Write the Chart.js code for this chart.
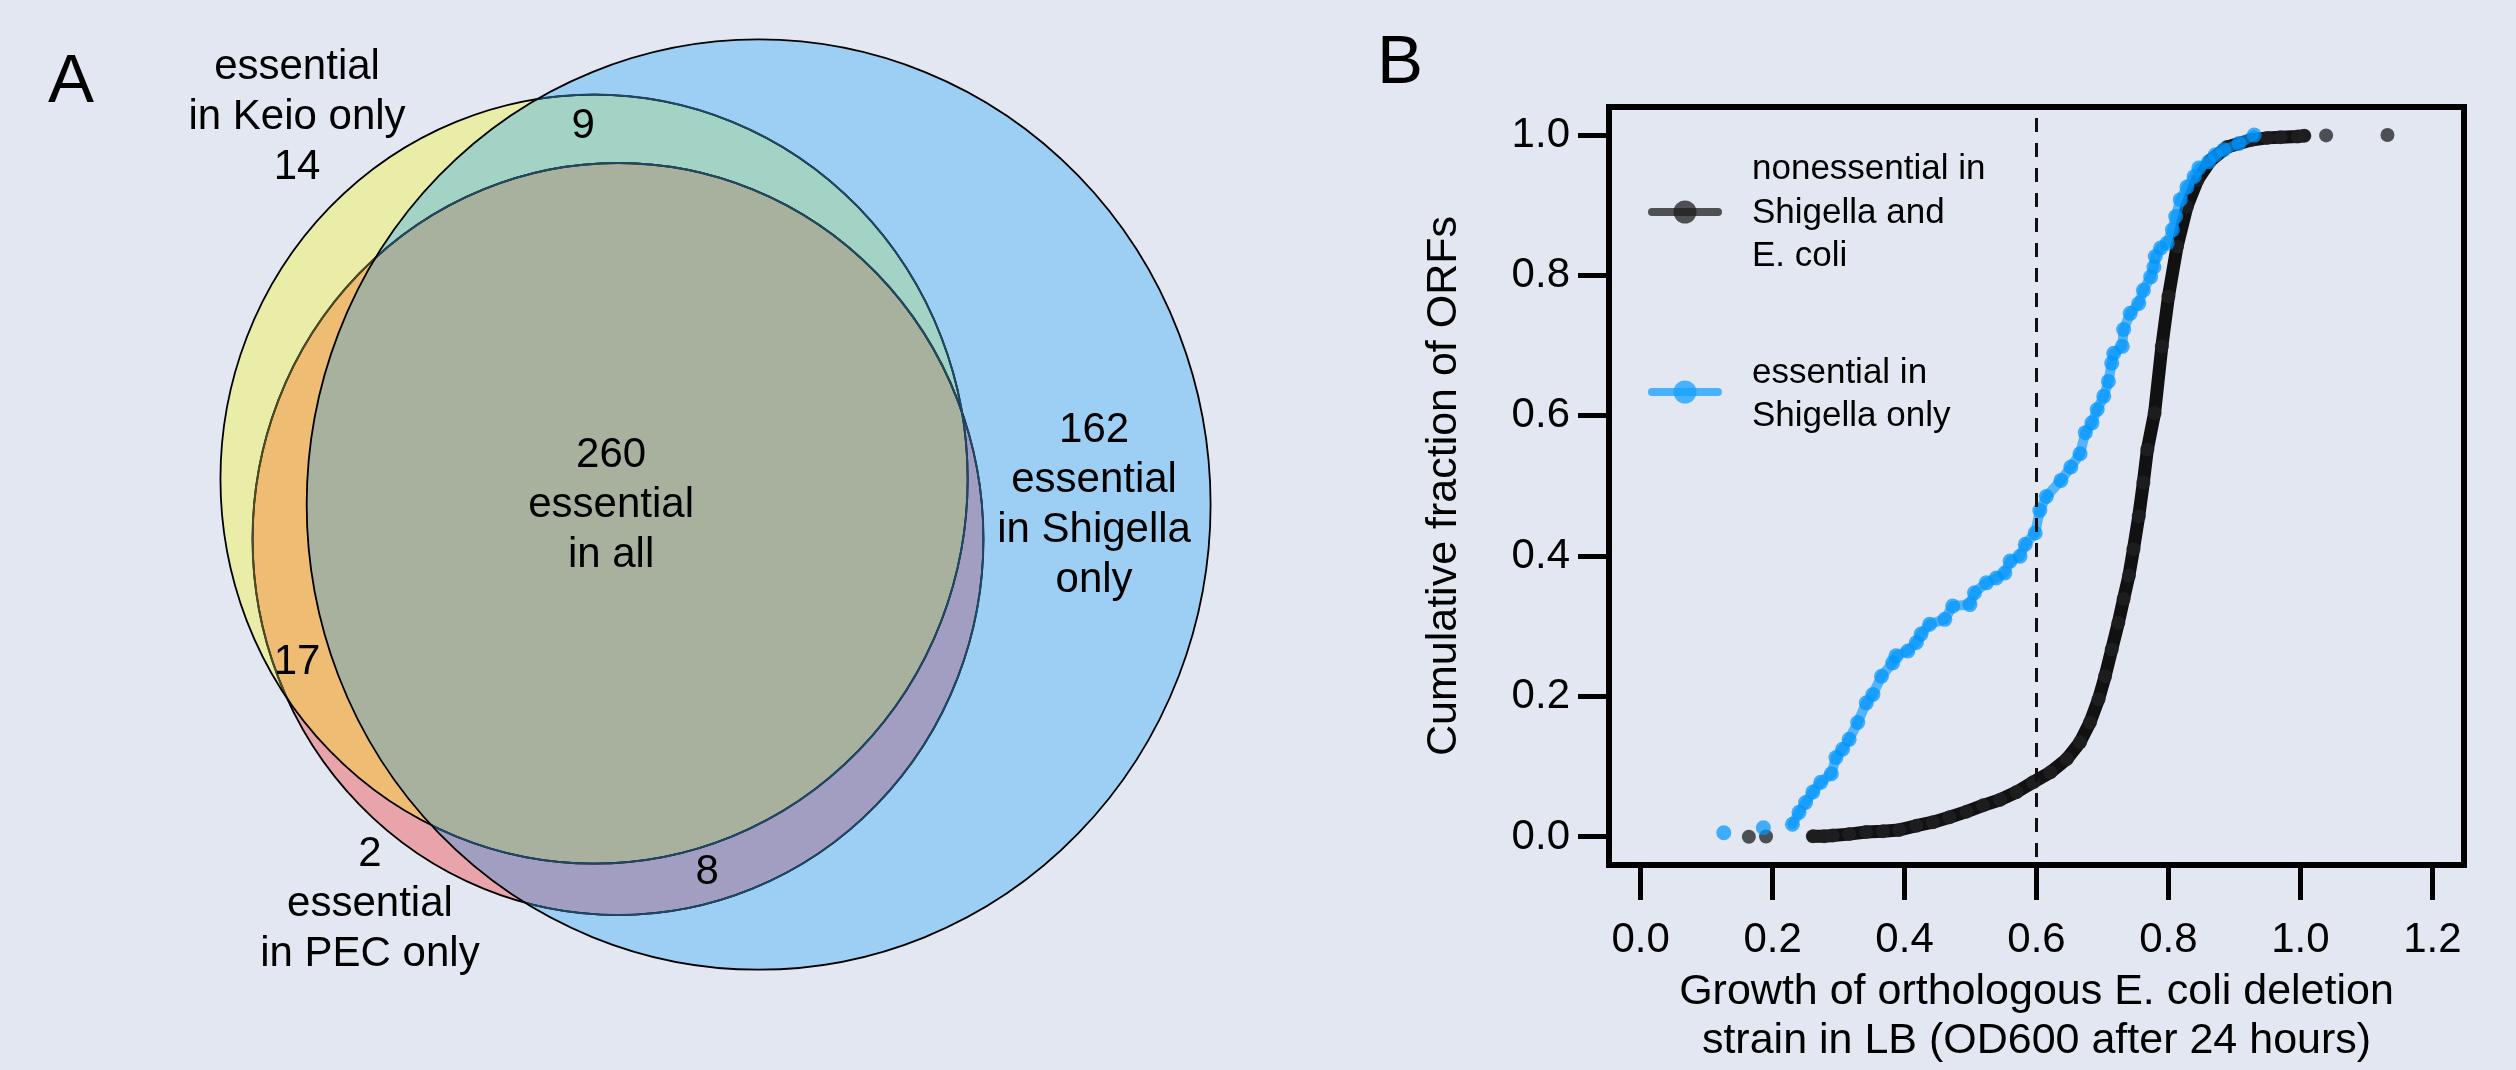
<!DOCTYPE html>
<html>
<head>
<meta charset="utf-8">
<title>Essential genes: Venn diagram and cumulative growth of deletion strains</title>
<script src="https://cdn.jsdelivr.net/npm/chart.js@4.4.1/dist/chart.umd.min.js"></script>
<style>
  html, body { margin: 0; padding: 0; background: #e3e7f2; }
  #page { position: relative; width: 2516px; height: 1070px; overflow: hidden; background: #e3e7f2; }
  canvas { position: absolute; top: 0; }
  #venn { left: 0; }
  #ecdf { left: 1258px; }
</style>
</head>
<body>
<div id="page">
  <canvas id="venn" width="1258" height="1070"></canvas>
  <canvas id="ecdf" width="1258" height="1070"></canvas>
</div>
<script>
// ---- Panel A: essential genes per Venn region ----
const setNames = ['Keio', 'PEC', 'Shigella'];
// membership of each region (indexes into setNames)
const regionMembers = [[0], [1], [2], [0, 1], [0, 2], [1, 2], [0, 1, 2]];
const regionCounts = [14, 2, 162, 17, 9, 8, 260];
const regionCaptions = [
    ['essential', 'in Keio only', '{n}'],
    ['{n}', 'essential', 'in PEC only'],
    ['{n}', 'essential', 'in Shigella', 'only'],
    ['{n}'],
    ['{n}'],
    ['{n}'],
    ['{n}', 'essential', 'in all']
];

// ---- Panel B: cumulative fraction of ORFs vs OD600 of the E. coli deletion strain ----
const seriesNames = [['nonessential in', 'Shigella and', 'E. coli'], ['essential in', 'Shigella only']];
const nonessOD = [0.261, 0.278, 0.291, 0.316, 0.342, 0.367, 0.392, 0.418, 0.443, 0.468, 0.494, 0.519,
    0.545, 0.570, 0.595, 0.621, 0.646, 0.666, 0.681, 0.694, 0.704, 0.714, 0.724, 0.732, 0.740, 0.747,
    0.755, 0.762, 0.768, 0.779, 0.790, 0.800, 0.813, 0.828, 0.844, 0.864, 0.889, 0.925, 0.950, 0.970,
    0.996, 1.006];
const nonessFrac = [0.001, 0.001, 0.002, 0.004, 0.007, 0.008, 0.010, 0.016, 0.021, 0.028, 0.036, 0.045,
    0.053, 0.064, 0.078, 0.092, 0.111, 0.135, 0.163, 0.196, 0.229, 0.267, 0.305, 0.339, 0.372, 0.410,
    0.457, 0.505, 0.552, 0.604, 0.699, 0.770, 0.841, 0.898, 0.936, 0.964, 0.983, 0.993, 0.996, 0.997,
    0.998, 0.999];
const nonessOutlierOD = [0.164, 0.190, 1.039, 1.132];
const nonessOutlierFrac = [0.0003, 0.0006, 0.9995, 1.000];

const essOD = [0.230, 0.240, 0.250, 0.261, 0.273, 0.289, 0.296, 0.306, 0.316, 0.329, 0.342, 0.352,
    0.365, 0.382, 0.387, 0.405, 0.418, 0.425, 0.438, 0.461, 0.473, 0.499, 0.506, 0.524, 0.539, 0.552,
    0.560, 0.575, 0.583, 0.598, 0.605, 0.615, 0.637, 0.652, 0.666, 0.674, 0.684, 0.692, 0.702, 0.709,
    0.714, 0.717, 0.730, 0.732, 0.742, 0.755, 0.762, 0.773, 0.778, 0.780, 0.788, 0.798, 0.806, 0.811,
    0.818, 0.828, 0.839, 0.846, 0.861, 0.871, 0.884, 0.907, 0.930];
const essFrac = [0.018, 0.035, 0.049, 0.064, 0.078, 0.090, 0.113, 0.125, 0.139, 0.163, 0.191, 0.203,
    0.229, 0.248, 0.258, 0.265, 0.277, 0.289, 0.303, 0.310, 0.329, 0.331, 0.348, 0.362, 0.369, 0.376,
    0.393, 0.400, 0.417, 0.433, 0.465, 0.485, 0.508, 0.527, 0.546, 0.576, 0.590, 0.609, 0.628, 0.649,
    0.675, 0.689, 0.699, 0.723, 0.746, 0.760, 0.779, 0.798, 0.812, 0.827, 0.839, 0.846, 0.865, 0.884,
    0.908, 0.926, 0.941, 0.953, 0.962, 0.972, 0.979, 0.988, 1.000];
const essOutlierOD = [0.126, 0.186];
const essOutlierFrac = [0.006, 0.013];

const odTicks = [0, 0.2, 0.4, 0.6, 0.8, 1.0, 1.2];
const fracTicks = [0, 0.2, 0.4, 0.6, 0.8, 1.0];
const cutoffOD = 0.6;
const xTitle = ['Growth of orthologous E. coli deletion', 'strain in LB (OD600 after 24 hours)'];
const yTitle = 'Cumulative fraction of ORFs';

// ---- layout / style (not data) ----
const FONT = "'Liberation Sans', Arial, Helvetica, sans-serif";
const vennLayout = {
    // circle centres in diagram units; radius = sqrt(set size)
    centers: [[27.54, 21.58], [28.65, 24.28], [35.17, 22.73]],
    labels: [[13.77, 5.27], [17.15, 40.72], [50.72, 22.77], [13.77, 29.86], [27.03, 5.68], [32.78, 39.28], [28.33, 22.79]],
    xMax: 58.32,
    yMax: 48.2
};
const regionColors = ['#eaeda8', '#e9a3aa', '#9dcef3', '#efbc73', '#a2d3c4', '#a19ec2', '#a7b19d'];
const outlineOrder = [1, 0, 2];
const outlineTints = ['#4b4c24', '#5a2a2e', '#1f4866'];

Chart.defaults.font.family = FONT;
Chart.defaults.color = '#000';

const setTotals = setNames.map((_, s) =>
    regionMembers.reduce((sum, m, k) => sum + (m.includes(s) ? regionCounts[k] : 0), 0));

const toPoints = (xs, ys) => xs.map((x, i) => ({ x, y: ys[i] }));

const vennPlugin = {
    id: 'vennRegions',
    beforeDatasetsDraw(chart) {
        const { ctx, scales: { x, y } } = chart;
        const W = chart.width, H = chart.height;
        const circles = vennLayout.centers.map(([cx, cy], i) => {
            const r = Math.sqrt(setTotals[i]);
            const px = x.getPixelForValue(cx), py = y.getPixelForValue(cy);
            return {
                px, py,
                rx: Math.abs(x.getPixelForValue(cx + r) - px),
                ry: Math.abs(y.getPixelForValue(cy + r) - py)
            };
        });
        const ellipse = (c) => ctx.ellipse(c.px, c.py, c.rx, c.ry, 0, 0, Math.PI * 2);

        // fill every region with its own colour
        regionMembers.forEach((members, k) => {
            ctx.save();
            circles.forEach((c, i) => {
                ctx.beginPath();
                if (members.includes(i)) {
                    ellipse(c);
                    ctx.clip();
                } else {
                    ctx.rect(0, 0, W, H);
                    ellipse(c);
                    ctx.clip('evenodd');
                }
            });
            ctx.fillStyle = regionColors[k];
            ctx.fillRect(0, 0, W, H);
            ctx.restore();
        });

        // outlines, tinted where a later circle lies on top
        outlineOrder.forEach((i, pos) => {
            ctx.save();
            ctx.lineWidth = 1.8;
            ctx.strokeStyle = '#000';
            ctx.beginPath();
            ellipse(circles[i]);
            ctx.stroke();
            ctx.restore();
            outlineOrder.slice(pos + 1).forEach(j => {
                ctx.save();
                ctx.beginPath();
                ellipse(circles[j]);
                ctx.clip();
                ctx.lineWidth = 2;
                ctx.strokeStyle = outlineTints[j];
                ctx.beginPath();
                ellipse(circles[i]);
                ctx.stroke();
                ctx.restore();
            });
        });
    },
    afterDatasetsDraw(chart) {
        const { ctx, scales: { x, y } } = chart;
        ctx.save();
        ctx.fillStyle = '#000';
        ctx.textAlign = 'center';
        ctx.textBaseline = 'middle';
        ctx.font = '42px ' + FONT;
        const lineH = 50;
        regionCaptions.forEach((lines, k) => {
            const [lx, ly] = vennLayout.labels[k];
            const px = x.getPixelForValue(lx);
            const py = y.getPixelForValue(ly) - (lines.length - 1) * lineH / 2;
            lines.forEach((t, n) => {
                ctx.fillText(t.replace('{n}', regionCounts[k]), px, py + n * lineH);
            });
        });
        ctx.font = '69px ' + FONT;
        ctx.textBaseline = 'alphabetic';
        ctx.fillText('A', 71, 102);
        ctx.restore();
    }
};

new Chart(document.getElementById('venn'), {
    type: 'scatter',
    data: {
        datasets: [{
            label: 'set centres',
            data: vennLayout.centers.map(([cx, cy]) => ({ x: cx, y: cy })),
            pointRadius: 0
        }]
    },
    options: {
        responsive: false,
        animation: false,
        events: [],
        layout: { padding: 0 },
        plugins: { legend: { display: false }, tooltip: { enabled: false } },
        scales: {
            x: { type: 'linear', display: false, min: 0, max: vennLayout.xMax },
            y: { type: 'linear', display: false, min: 0, max: vennLayout.yMax, reverse: true }
        }
    },
    plugins: [vennPlugin]
});

const blueDot = 'rgba(0, 150, 255, 0.72)';
const blueLine = 'rgba(0, 150, 255, 0.62)';
const blackDot = 'rgba(32, 32, 36, 0.8)';

const ecdfPlugin = {
    id: 'ecdfDecor',
    afterDatasetsDraw(chart) {
        const { ctx, chartArea: a, scales: { x } } = chart;
        const cx = x.getPixelForValue(cutoffOD);
        ctx.save();
        ctx.strokeStyle = '#111';
        ctx.lineWidth = 3;
        ctx.setLineDash([14, 11]);
        ctx.beginPath();
        ctx.moveTo(cx, a.top + 11);
        ctx.lineTo(cx, a.bottom);
        ctx.stroke();
        ctx.restore();
    },
    afterDraw(chart) {
        const { ctx, chartArea: a } = chart;
        ctx.save();
        // plot frame
        ctx.strokeStyle = '#000';
        ctx.lineWidth = 6;
        ctx.strokeRect(a.left, a.top, a.right - a.left, a.bottom - a.top);

        // legend
        const entries = [
            { lines: seriesNames[0], color: 'rgba(30, 30, 30, 0.75)', y: a.top + 105, textY: a.top + 106 },
            { lines: seriesNames[1], color: 'rgba(20, 160, 255, 0.75)', y: a.top + 285, textY: a.top + 288 }
        ];
        ctx.font = '35px ' + FONT;
        ctx.textAlign = 'left';
        ctx.textBaseline = 'middle';
        entries.forEach(e => {
            ctx.strokeStyle = e.color;
            ctx.lineWidth = 8;
            ctx.lineCap = 'round';
            ctx.beginPath();
            ctx.moveTo(a.left + 43, e.y);
            ctx.lineTo(a.left + 109, e.y);
            ctx.stroke();
            ctx.fillStyle = e.color;
            ctx.beginPath();
            ctx.arc(a.left + 76, e.y, 11.5, 0, Math.PI * 2);
            ctx.fill();
            ctx.fillStyle = '#000';
            const lh = 43.5;
            const top = e.textY - (e.lines.length - 1) * lh / 2;
            e.lines.forEach((t, n) => ctx.fillText(t, a.left + 143, top + n * lh));
        });

        ctx.font = '69px ' + FONT;
        ctx.textAlign = 'center';
        ctx.textBaseline = 'alphabetic';
        ctx.fillStyle = '#000';
        ctx.fillText('B', 142, 83);
        ctx.restore();
    }
};

new Chart(document.getElementById('ecdf'), {
    type: 'scatter',
    data: {
        datasets: [
            {
                label: seriesNames[1].join(' '),
                data: toPoints(essOD, essFrac),
                showLine: true,
                borderColor: blueLine,
                borderWidth: 10,
                borderJoinStyle: 'round',
                borderCapStyle: 'round',
                pointRadius: 7.5,
                pointBorderWidth: 0,
                pointBackgroundColor: blueDot,
                order: 0
            },
            {
                label: seriesNames[1].join(' ') + ' (tail)',
                data: toPoints(essOutlierOD, essOutlierFrac),
                showLine: false,
                pointRadius: 7.5,
                pointBorderWidth: 0,
                pointBackgroundColor: blueDot,
                order: 0
            },
            {
                label: seriesNames[0].join(' '),
                data: toPoints(nonessOD, nonessFrac),
                showLine: true,
                borderColor: '#111',
                borderWidth: 13,
                borderJoinStyle: 'round',
                borderCapStyle: 'round',
                pointRadius: 7,
                pointBorderWidth: 0,
                pointBackgroundColor: blackDot,
                order: 1
            },
            {
                label: seriesNames[0].join(' ') + ' (tail)',
                data: toPoints(nonessOutlierOD, nonessOutlierFrac),
                showLine: false,
                pointRadius: 7,
                pointBorderWidth: 0,
                pointBackgroundColor: 'rgba(45, 45, 50, 0.82)',
                order: 1
            }
        ]
    },
    options: {
        responsive: false,
        animation: false,
        events: [],
        layout: { padding: { top: 107, right: 52, left: 0, bottom: 0 } },
        plugins: { legend: { display: false }, tooltip: { enabled: false } },
        scales: {
            x: {
                type: 'linear',
                min: -0.048,
                max: 1.248,
                afterBuildTicks: s => { s.ticks = odTicks.map(v => ({ value: v })); },
                afterFit: s => { s.height = 205; },
                ticks: {
                    font: { size: 42 },
                    color: '#000',
                    padding: 15,
                    maxRotation: 0,
                    autoSkip: false,
                    callback: v => v.toFixed(1)
                },
                grid: { drawOnChartArea: false, drawTicks: true, tickLength: 35, tickWidth: 5, tickColor: '#000' },
                border: { display: false },
                title: {
                    display: true,
                    text: xTitle,
                    color: '#000',
                    font: { size: 43, lineHeight: 1.14 },
                    padding: { top: 0, bottom: 4 }
                }
            },
            y: {
                type: 'linear',
                min: -0.04,
                max: 1.04,
                afterBuildTicks: s => { s.ticks = fracTicks.map(v => ({ value: v })); },
                afterFit: s => { s.width = 351; },
                ticks: {
                    font: { size: 42 },
                    color: '#000',
                    padding: 8,
                    callback: v => v.toFixed(1)
                },
                grid: { drawOnChartArea: false, drawTicks: true, tickLength: 31, tickWidth: 5, tickColor: '#000' },
                border: { display: false },
                title: {
                    display: true,
                    text: yTitle,
                    color: '#000',
                    font: { size: 43 },
                    padding: { top: 160, bottom: 0 }
                }
            }
        }
    },
    plugins: [ecdfPlugin]
});
</script>
</body>
</html>
